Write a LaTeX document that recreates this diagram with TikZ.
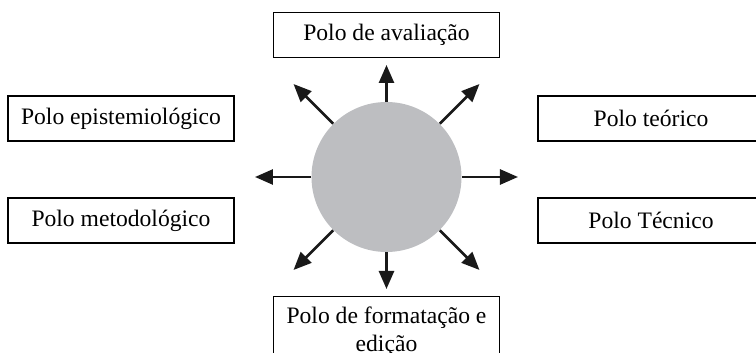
\documentclass[tikz,border=0pt]{standalone}
\usepackage{fontspec}
\setmainfont{Liberation Serif}
\usetikzlibrary{arrows.meta, positioning}
\definecolor{polegray}{RGB}{189,190,193}
\tikzset{
  pole/.style={
    rectangle, draw=black, line width=0.6pt, fill=white,
    minimum width=113pt, minimum height=22.5pt, inner sep=0pt,
    text centered, font=\fontsize{11.8}{13.8}\selectfont
  },
  core/.style={
    circle, fill=polegray, minimum size=75pt, inner sep=0pt
  },
  arrow/.style={
    -{Triangle[length=9pt,width=7.5pt]}, line width=1.3pt, color=black!90
  }
}

\begin{document}
\begin{tikzpicture}
\useasboundingbox (-193.25pt,-88pt) rectangle (184.75pt,88.5pt);

% Centre
\node[core] (centre) at (0,0) {};

% Poles
\node[pole] (avaliacao) at (0,71pt) {Polo de avaliação};
\node[pole] (epistemo) at (-132.75pt,29.25pt) {Polo epistemiológico};
\node[pole] (metodo) at (-132.75pt,-21.75pt) {Polo metodológico};
\node[pole] (teorico) at (132.25pt,29.25pt) {Polo teórico};
\node[pole] (tecnico) at (132.25pt,-21.75pt) {Polo Técnico};
\node[pole, anchor=north, minimum height=35pt, align=center] (formatacao) at (0,-59.5pt) {Polo de formatação e\\edição};

% Arrows
\foreach \a in {0,45,135,180,225,315} {
  \coordinate (tip\a) at (\a:65.75pt);
  \draw[arrow] (centre.\a) -- (tip\a);
}
\foreach \a in {90,270} {
  \coordinate (tip\a) at (\a:56pt);
  \draw[arrow] (centre.\a) -- (tip\a);
}

\end{tikzpicture}
\end{document}
